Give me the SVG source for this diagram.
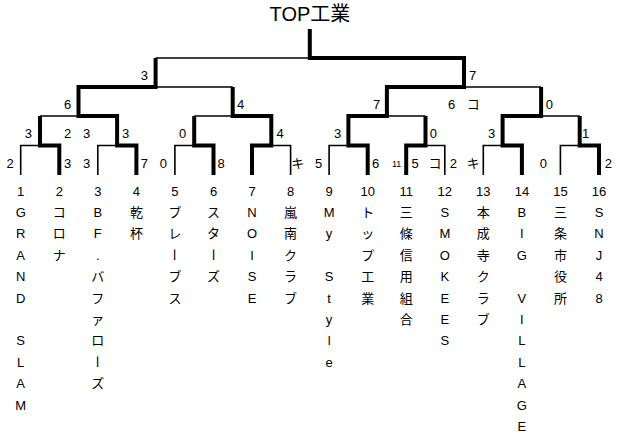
<svg xmlns="http://www.w3.org/2000/svg" width="620" height="435" viewBox="0 0 620 435">
<style>
.thin{fill:none;stroke:#000;stroke-width:1.6;stroke-linejoin:miter}
.thick{fill:none;stroke:#000;stroke-width:4;stroke-linejoin:miter;stroke-linecap:butt}
.t{font-family:"Liberation Sans","Noto Sans CJK JP",sans-serif;font-size:13px;text-anchor:middle;fill:#000}
.s{font-family:"Liberation Sans","Noto Sans CJK JP",sans-serif;font-size:13px;text-anchor:middle;fill:#000}
.sm{font-size:9px}
.title{font-family:"Liberation Sans","Noto Sans CJK JP",sans-serif;font-size:20px;text-anchor:middle;fill:#000}
</style>
<rect width="620" height="435" fill="#fff"/>
<g id="connectors">
  <path class="thin" d="M20.7,175V145.5H40"/>
  <path class="thin" d="M97.8,175V145.5H117.1"/>
  <path class="thin" d="M174.9,175V145.5H194.2"/>
  <path class="thin" d="M290.6,175V145.5H271.3"/>
  <path class="thin" d="M329.1,175V145.5H348.4"/>
  <path class="thin" d="M444.8,175V145.5H425.5"/>
  <path class="thin" d="M483.3,175V145.5H502.6"/>
  <path class="thin" d="M560.4,175V145.5H579.7"/>
  <path class="thin" d="M40,116H78.5"/>
  <path class="thin" d="M194.2,116H232.7"/>
  <path class="thin" d="M425.5,116H386.9"/>
  <path class="thin" d="M579.7,116H541.1"/>
  <path class="thin" d="M232.7,87H155.6"/>
  <path class="thin" d="M541.1,87H464"/>
  <path class="thin" d="M155.6,58H309.8"/>
  <path class="thick" d="M59.3,175V145.5H40V116"/>
  <path class="thick" d="M136.4,175V145.5H117.1V116H78.5V87H155.6V58"/>
  <path class="thick" d="M213.5,175V145.5H194.2V116"/>
  <path class="thick" d="M252,175V145.5H271.3V116H232.7V87"/>
  <path class="thick" d="M367.7,175V145.5H348.4V116H386.9V87H464V58H309.8V29"/>
  <path class="thick" d="M406.2,175V145.5H425.5V116"/>
  <path class="thick" d="M521.9,175V145.5H502.6V116H541.1V87"/>
  <path class="thick" d="M599,175V145.5H579.7V116"/>
</g>
<g id="champion">
  <text class="title" x="310" y="20.5">TOP工業</text>
</g>
<g id="scores">
  <text class="s" x="144.3" y="79.7">3</text>
  <text class="s" x="472.7" y="79.7">7</text>
  <text class="s" x="67.7" y="108.7">6</text>
  <text class="s" x="240.7" y="108.7">4</text>
  <text class="s" x="376.7" y="108.7">7</text>
  <text class="s" x="451.7" y="108.7">6</text>
  <text class="s" x="473.3" y="108.7">コ</text>
  <text class="s" x="549.3" y="108.7">0</text>
  <text class="s" x="28.3" y="138">3</text>
  <text class="s" x="67.7" y="138">2</text>
  <text class="s" x="86.7" y="138">3</text>
  <text class="s" x="125.7" y="138">3</text>
  <text class="s" x="182.7" y="138">0</text>
  <text class="s" x="280" y="138">4</text>
  <text class="s" x="337.7" y="138">3</text>
  <text class="s" x="433.3" y="138">0</text>
  <text class="s" x="491.7" y="138">3</text>
  <text class="s" x="585.7" y="138">1</text>
  <text class="s" x="10" y="168">2</text>
  <text class="s" x="67.7" y="168">3</text>
  <text class="s" x="86.7" y="168">3</text>
  <text class="s" x="144.3" y="168">7</text>
  <text class="s" x="163.3" y="168">0</text>
  <text class="s" x="221" y="168">8</text>
  <text class="s" x="297.7" y="168">キ</text>
  <text class="s" x="318.5" y="168">5</text>
  <text class="s" x="375.7" y="168">6</text>
  <text class="s sm" x="396.7" y="167">11</text>
  <text class="s" x="415" y="168">5</text>
  <text class="s" x="435" y="168">コ</text>
  <text class="s" x="453.3" y="168">2</text>
  <text class="s" x="473.3" y="168">キ</text>
  <text class="s" x="543.3" y="168">0</text>
  <text class="s" x="608.3" y="168">2</text>
</g>
<g id="team1"><text class="t" x="20.7" y="195.6">1</text><text class="t"><tspan x="20.7" y="217">G</tspan><tspan x="20.7" y="238.4">R</tspan><tspan x="20.7" y="259.8">A</tspan><tspan x="20.7" y="281.2">N</tspan><tspan x="20.7" y="302.6">D</tspan><tspan x="20.7" y="324"> </tspan><tspan x="20.7" y="345.4">S</tspan><tspan x="20.7" y="366.8">L</tspan><tspan x="20.7" y="388.2">A</tspan><tspan x="20.7" y="409.6">M</tspan></text></g>
<g id="team2"><text class="t" x="59.3" y="195.6">2</text><text class="t"><tspan x="59.3" y="217">コ</tspan><tspan x="59.3" y="238.4">ロ</tspan><tspan x="59.3" y="259.8">ナ</tspan></text></g>
<g id="team3"><text class="t" x="97.8" y="195.6">3</text><text class="t"><tspan x="97.8" y="217">B</tspan><tspan x="97.8" y="238.4">F</tspan><tspan x="97.8" y="259.8">.</tspan><tspan x="97.8" y="281.2">バ</tspan><tspan x="97.8" y="302.6">フ</tspan><tspan x="97.8" y="324">ァ</tspan><tspan x="97.8" y="345.4">ロ</tspan><tspan x="99.4" y="355.3" rotate="90">ー</tspan><tspan x="97.8" y="388.2">ズ</tspan></text></g>
<g id="team4"><text class="t" x="136.4" y="195.6">4</text><text class="t"><tspan x="136.4" y="217">乾</tspan><tspan x="136.4" y="238.4">杯</tspan></text></g>
<g id="team5"><text class="t" x="174.9" y="195.6">5</text><text class="t"><tspan x="174.9" y="217">ブ</tspan><tspan x="174.9" y="238.4">レ</tspan><tspan x="176.5" y="248.3" rotate="90">ー</tspan><tspan x="174.9" y="281.2">ブ</tspan><tspan x="174.9" y="302.6">ス</tspan></text></g>
<g id="team6"><text class="t" x="213.5" y="195.6">6</text><text class="t"><tspan x="213.5" y="217">ス</tspan><tspan x="213.5" y="238.4">タ</tspan><tspan x="215.1" y="248.3" rotate="90">ー</tspan><tspan x="213.5" y="281.2">ズ</tspan></text></g>
<g id="team7"><text class="t" x="252" y="195.6">7</text><text class="t"><tspan x="252" y="217">N</tspan><tspan x="252" y="238.4">O</tspan><tspan x="252" y="259.8">I</tspan><tspan x="252" y="281.2">S</tspan><tspan x="252" y="302.6">E</tspan></text></g>
<g id="team8"><text class="t" x="290.6" y="195.6">8</text><text class="t"><tspan x="290.6" y="217">嵐</tspan><tspan x="290.6" y="238.4">南</tspan><tspan x="290.6" y="259.8">ク</tspan><tspan x="290.6" y="281.2">ラ</tspan><tspan x="290.6" y="302.6">ブ</tspan></text></g>
<g id="team9"><text class="t" x="329.1" y="195.6">9</text><text class="t"><tspan x="329.1" y="217">M</tspan><tspan x="329.1" y="238.4">y</tspan><tspan x="329.1" y="259.8"> </tspan><tspan x="329.1" y="281.2">S</tspan><tspan x="329.1" y="302.6">t</tspan><tspan x="329.1" y="324">y</tspan><tspan x="329.1" y="345.4">l</tspan><tspan x="329.1" y="366.8">e</tspan></text></g>
<g id="team10"><text class="t" x="367.7" y="195.6">10</text><text class="t"><tspan x="367.7" y="217">ト</tspan><tspan x="367.7" y="238.4">ッ</tspan><tspan x="367.7" y="259.8">プ</tspan><tspan x="367.7" y="281.2">工</tspan><tspan x="367.7" y="302.6">業</tspan></text></g>
<g id="team11"><text class="t" x="406.2" y="195.6">11</text><text class="t"><tspan x="406.2" y="217">三</tspan><tspan x="406.2" y="238.4">條</tspan><tspan x="406.2" y="259.8">信</tspan><tspan x="406.2" y="281.2">用</tspan><tspan x="406.2" y="302.6">組</tspan><tspan x="406.2" y="324">合</tspan></text></g>
<g id="team12"><text class="t" x="444.8" y="195.6">12</text><text class="t"><tspan x="444.8" y="217">S</tspan><tspan x="444.8" y="238.4">M</tspan><tspan x="444.8" y="259.8">O</tspan><tspan x="444.8" y="281.2">K</tspan><tspan x="444.8" y="302.6">E</tspan><tspan x="444.8" y="324">E</tspan><tspan x="444.8" y="345.4">S</tspan></text></g>
<g id="team13"><text class="t" x="483.3" y="195.6">13</text><text class="t"><tspan x="483.3" y="217">本</tspan><tspan x="483.3" y="238.4">成</tspan><tspan x="483.3" y="259.8">寺</tspan><tspan x="483.3" y="281.2">ク</tspan><tspan x="483.3" y="302.6">ラ</tspan><tspan x="483.3" y="324">ブ</tspan></text></g>
<g id="team14"><text class="t" x="521.9" y="195.6">14</text><text class="t"><tspan x="521.9" y="217">B</tspan><tspan x="521.9" y="238.4">I</tspan><tspan x="521.9" y="259.8">G</tspan><tspan x="521.9" y="281.2"> </tspan><tspan x="521.9" y="302.6">V</tspan><tspan x="521.9" y="324">I</tspan><tspan x="521.9" y="345.4">L</tspan><tspan x="521.9" y="366.8">L</tspan><tspan x="521.9" y="388.2">A</tspan><tspan x="521.9" y="409.6">G</tspan><tspan x="521.9" y="431">E</tspan></text></g>
<g id="team15"><text class="t" x="560.4" y="195.6">15</text><text class="t"><tspan x="560.4" y="217">三</tspan><tspan x="560.4" y="238.4">条</tspan><tspan x="560.4" y="259.8">市</tspan><tspan x="560.4" y="281.2">役</tspan><tspan x="560.4" y="302.6">所</tspan></text></g>
<g id="team16"><text class="t" x="599" y="195.6">16</text><text class="t"><tspan x="599" y="217">S</tspan><tspan x="599" y="238.4">N</tspan><tspan x="599" y="259.8">J</tspan><tspan x="599" y="281.2">4</tspan><tspan x="599" y="302.6">8</tspan></text></g>
</svg>
